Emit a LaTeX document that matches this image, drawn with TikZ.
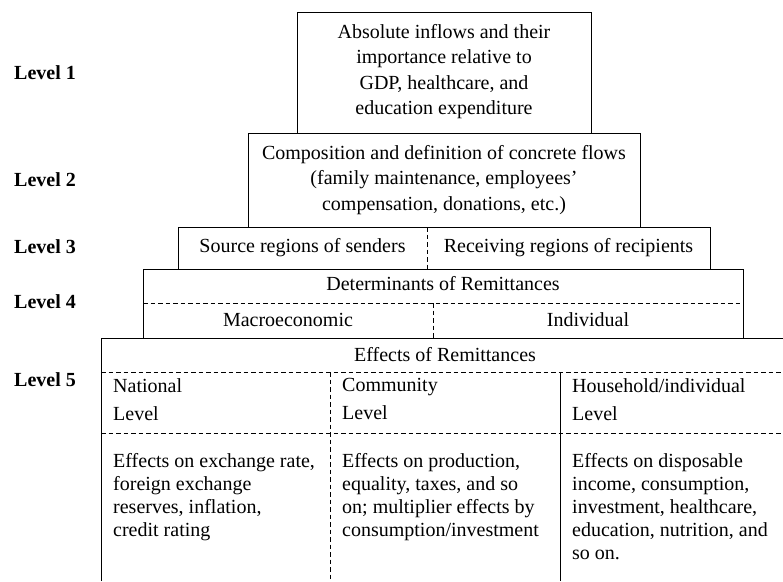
\documentclass[tikz,border=0pt]{standalone}
\usepackage{fontspec}
\setmainfont{Liberation Serif}
\begin{document}
\begin{tikzpicture}[x=1pt,y=-1pt,
  frame/.style={line width=0.9pt, black},
  dashline/.style={line width=0.8pt, black, dash pattern=on 4.5pt off 3pt},
  ctext/.style={font=\fontsize{20}{25.5}\selectfont, inner sep=0pt, align=center},
  stext/.style={font=\fontsize{20}{25.5}\selectfont, inner sep=0pt, anchor=base},
  lvl/.style={font=\fontsize{20}{24}\selectfont\bfseries, inner sep=0pt, anchor=base west},
  coltext/.style={font=\fontsize{20}{23}\selectfont, inner sep=0pt, align=left, anchor=north west},
  headtext/.style={font=\fontsize{20}{28}\selectfont, inner sep=0pt, align=left, anchor=north west}]
\useasboundingbox (0,0) rectangle (783,581);
\fill[white] (0,0) rectangle (783,581);

% boxes
\draw[frame] (297,12) rectangle (591,133);
\draw[frame] (248,133) rectangle (640,227);
\draw[frame] (178,227) rectangle (710,269);
\draw[frame] (143,269) rectangle (743,338);
\draw[frame] (101,581) -- (101,338) -- (783,338);

% dividers
\draw[dashline] (427,227) -- (427,269);
\draw[dashline] (143,303) -- (743,303);
\draw[dashline] (433,303) -- (433,338);
\draw[dashline] (101,372) -- (783,372);
\draw[dashline] (101,433) -- (783,433);
\draw[dashline] (330,372) -- (330,581);
\draw[frame] (560,372) -- (560,581);

% level labels
\node[lvl] (l1) at (14,79.5) {Level 1};
\node[lvl] (l2) at (14,186.5) {Level 2};
\node[lvl] (l3) at (14,253.5) {Level 3};
\node[lvl] (l4) at (14,308.5) {Level 4};
\node[lvl] (l5) at (14,386) {Level 5};

% level 1 and 2
\node[ctext] (t1) at (444,71.5) {Absolute inflows and their\\importance relative to\\GDP, healthcare, and\\education expenditure};
\node[ctext] (t2) at (444,180) {Composition and definition of concrete flows\\(family maintenance, employees’\\compensation, donations, etc.)};

% level 3
\node[stext] (t3a) at (302.5,252.5) {Source regions of senders};
\node[stext] (t3b) at (568.5,252.5) {Receiving regions of recipients};

% level 4
\node[stext] (t4) at (443,290) {Determinants of Remittances};
\node[stext] (t4a) at (288,326) {Macroeconomic};
\node[stext] (t4b) at (588,326) {Individual};

% level 5
\node[stext] (t5) at (445,361) {Effects of Remittances};
\node[headtext] (h1) at (113,378.3) {National\\Level};
\node[headtext] (h2) at (342,378.3) {Community\\Level};
\node[headtext] (h3) at (572,378.3) {Household/individual\\Level};
\node[coltext] (c1) at (113,453.3) {Effects on exchange rate,\\foreign exchange\\reserves, inflation,\\credit rating};
\node[coltext] (c2) at (342,453.3) {Effects on production,\\equality, taxes, and so\\on; multiplier effects by\\consumption/investment};
\node[coltext] (c3) at (572,453.3) {Effects on disposable\\income, consumption,\\investment, healthcare,\\education, nutrition, and\\so on.};
\end{tikzpicture}
\end{document}
